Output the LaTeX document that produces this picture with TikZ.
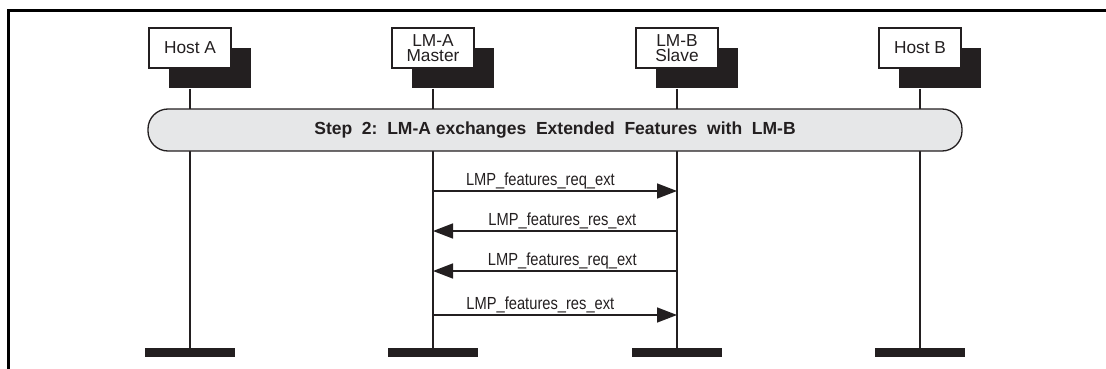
\documentclass[tikz,border=0pt]{standalone}
\usepackage{fontspec}
\setmainfont{Liberation Sans}
\newfontfamily\msgfont[FakeStretch=0.84]{Liberation Sans}
\usetikzlibrary{arrows.meta,shadows}

\definecolor{inkgray}{RGB}{35,31,32}
\definecolor{barfill}{RGB}{230,231,232}

\tikzset{
  entity/.style={draw=inkgray, line width=1.2pt, fill=white, minimum width=82, minimum height=40,
    inner sep=0pt, align=center, text=inkgray, font=\fontsize{17.3}{15.5}\selectfont,
    drop shadow={shadow xshift=20pt, shadow yshift=-20pt, fill=inkgray, opacity=1}},
  entityend/.style={fill=inkgray, minimum width=90, minimum height=9, inner sep=0pt},
  lifeline/.style={draw=inkgray, line width=1.3pt},
  stepbar/.style={draw=inkgray, line width=1.3pt, fill=barfill, rounded corners=20pt,
    minimum width=814, minimum height=42, inner sep=0pt, text=inkgray,
    font=\fontsize{17.5}{18}\selectfont\bfseries},
  msg/.style={draw=inkgray, line width=1.5pt, -{Triangle[length=20pt,width=15pt]}},
  msglabel/.style={anchor=base, yshift=6pt, inner sep=0pt, text=inkgray,
    font=\msgfont\fontsize{17.5}{18}\selectfont}
}

\begin{document}
\begin{tikzpicture}[x=1pt, y=-1pt]
  \useasboundingbox (0,0) rectangle (1106,369);

  % Frame
  \draw[line width=3pt] (1106,10.5) -- (8.5,10.5) -- (8.5,369);

  % Entities and end bars
  \foreach \name/\x/\txt in {hosta/190/{Host A}, lma/433/{LM-A\\Master},
                             lmb/677/{LM-B\\Slave}, hostb/920/{Host B}} {
    \node[entity] (\name) at (\x,48) {\txt};
    \node[entityend] (\name-end) at (\x,352.5) {};
  }

  % Lifelines
  \foreach \name in {hosta,lma,lmb,hostb}
    \draw[lifeline] ([yshift=-20pt]\name.south) -- (\name-end.north);

  % Step 2
  \node[stepbar] (step2) at (555,130)
    {Step\ \ 2:\ \ LM-A exchanges\ \ Extended\ \ Features\ \ with\ \ LM-B};

  % Messages
  \draw[msg] (lma |- 0,191) -- node[msglabel, pos=0.44] {LMP\_features\_req\_ext} (lmb |- 0,191);
  \draw[msg] (lmb |- 0,231) -- node[msglabel, pos=0.47] {LMP\_features\_res\_ext} (lma |- 0,231);
  \draw[msg] (lmb |- 0,271) -- node[msglabel, pos=0.47] {LMP\_features\_req\_ext} (lma |- 0,271);
  \draw[msg] (lma |- 0,315) -- node[msglabel, pos=0.44] {LMP\_features\_res\_ext} (lmb |- 0,315);
\end{tikzpicture}
\end{document}
